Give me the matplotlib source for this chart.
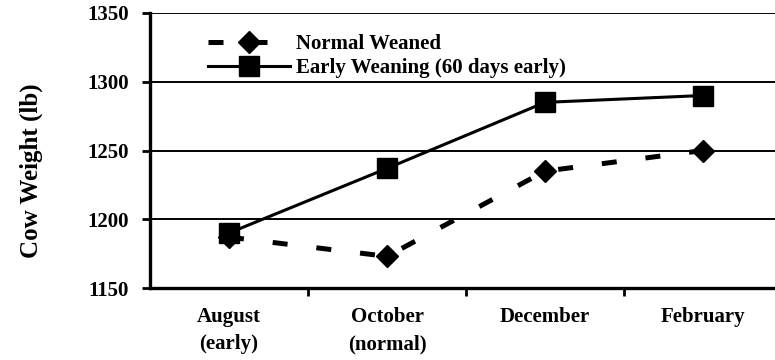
import matplotlib.pyplot as plt
from matplotlib.ticker import FixedLocator, NullFormatter

months = ["August\n(early)", "October\n(normal)", "December", "February"]
normal_weaned = [1187, 1173, 1235, 1250]
early_weaning = [1190, 1237, 1285, 1290]
y_ticks = [1150, 1200, 1250, 1300, 1350]

plt.rcParams['font.family'] = ['Liberation Serif', 'DejaVu Serif']
plt.rcParams['font.weight'] = 'bold'

fig = plt.figure(figsize=(7.75, 3.6), dpi=100)
ax = fig.add_axes([150 / 775, 1 - 288 / 360, 1 - 150 / 775, 275 / 360])

x = list(range(len(months)))
ax.plot(x, normal_weaned, color="black", lw=3.6, ls=(0, (3, 5.8)),
        dash_capstyle="butt", marker="D", ms=11, mfc="black", mec="black",
        label="Normal Weaned")
ax.plot(x, early_weaning, color="black", lw=2.2, ls="-",
        marker="s", ms=15, mfc="black", mec="black",
        label="Early Weaning (60 days early)")

ax.set_xlim(-0.5, 3.5 - 7 / 158)
ax.set_ylim(1150, 1350)
ax.set_yticks(y_ticks)
ax.yaxis.grid(True, color="black", lw=1.4)
ax.set_axisbelow(True)

ax.set_xticks(x)
ax.set_xticklabels(months, fontsize=15, fontweight="bold", linespacing=1.45)
ax.tick_params(axis="x", which="major", length=0, pad=14)
ax.xaxis.set_minor_locator(FixedLocator([0.5, 1.5, 2.5]))
ax.xaxis.set_minor_formatter(NullFormatter())
ax.tick_params(axis="x", which="minor", length=6, width=2, direction="out")
ax.tick_params(axis="y", length=6, width=2, direction="out", labelsize=15, pad=9)
for lab in ax.get_yticklabels():
    lab.set_fontweight("bold")

for side in ("top", "right"):
    ax.spines[side].set_visible(False)
for side in ("left", "bottom"):
    ax.spines[side].set_linewidth(2.4)

ax.set_ylabel("Cow Weight (lb)", fontsize=18, fontweight="bold")
ax.yaxis.set_label_coords(-0.172, 0.425)

ax.legend(loc="upper left", bbox_to_anchor=(0.093, 0.924), frameon=False,
          borderpad=0, borderaxespad=0,
          handlelength=3.95, handletextpad=0.25, labelspacing=0.2,
          prop={"size": 15, "weight": "bold"})

fig.savefig("out.png", dpi=100)
